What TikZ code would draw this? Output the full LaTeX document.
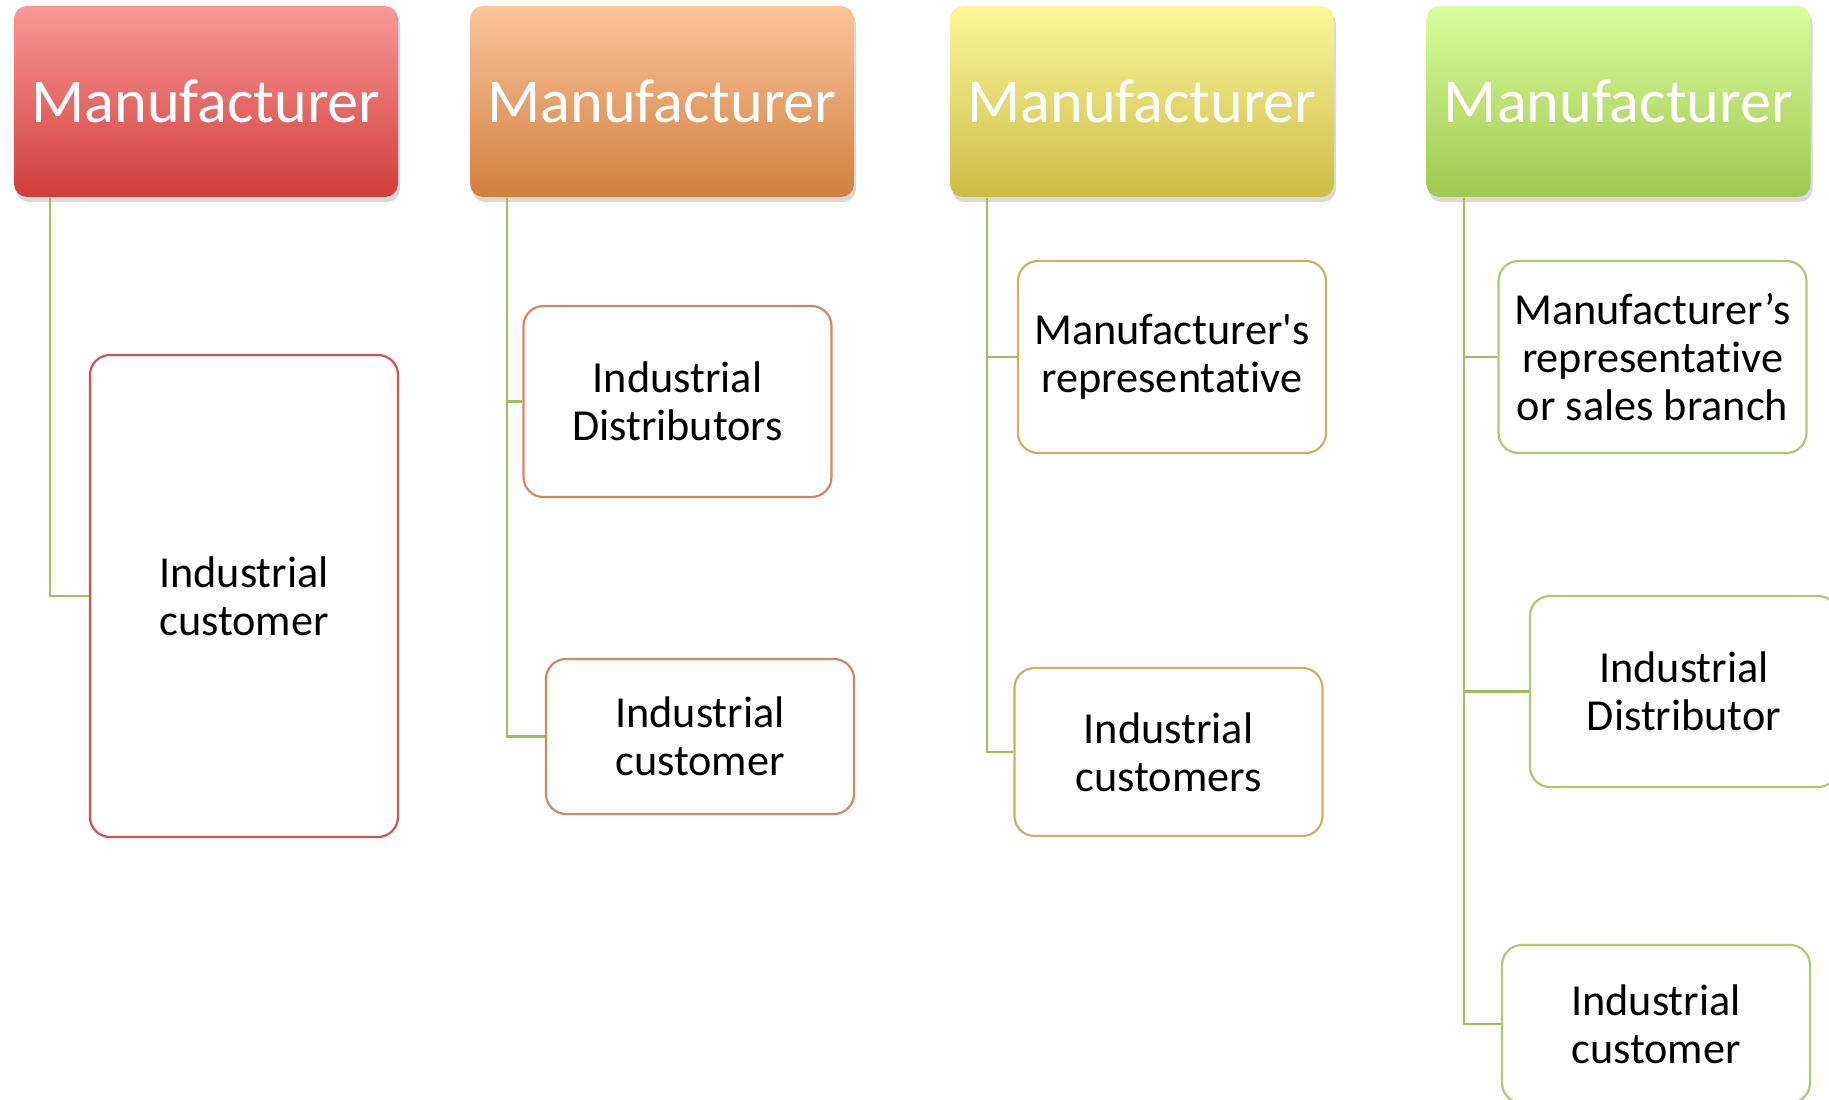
\documentclass[tikz,border=0pt]{standalone}
\usepackage{fontspec}
\setmainfont{Carlito}[RawFeature={-liga;-clig;-calt;-dlig}]
\usetikzlibrary{shadows}

\definecolor{redtop}{RGB}{250,152,150}
\definecolor{redbot}{RGB}{208,62,58}
\definecolor{orgtop}{RGB}{251,196,155}
\definecolor{orgbot}{RGB}{208,128,62}
\definecolor{yeltop}{RGB}{252,246,156}
\definecolor{yelbot}{RGB}{204,188,68}
\definecolor{grntop}{RGB}{218,252,158}
\definecolor{grnbot}{RGB}{158,200,78}
\definecolor{redline}{RGB}{204,84,82}
\definecolor{orgline}{RGB}{214,134,96}
\definecolor{yelline}{RGB}{204,178,96}
\definecolor{grnline}{RGB}{172,202,112}
\definecolor{linkcol}{RGB}{156,192,94}

\begin{document}
\begin{tikzpicture}[font=\fontsize{12.6}{13.6}\selectfont]

        % Setup the styles for the boxes and links
        \tikzset{maker style/.style={rectangle,
                                    rounded corners=0.13cm,
                                    minimum width=3.84cm,
                                    minimum height=1.91cm,
                                    inner sep=0pt,
                                    text=white,
                                    font=\fontsize{17.7}{20}\selectfont,
                                    drop shadow={opacity=0.3, shadow xshift=0.02cm, shadow yshift=-0.05cm}},
                 buyer style/.style={rectangle,
                                    rounded corners=0.2cm,
                                    minimum width=3.08cm,
                                    inner sep=0pt,
                                    line width=0.22mm,
                                    fill=white,
                                    align=center},
                 link/.style={draw=linkcol, line width=0.22mm}}

        \useasboundingbox (0, 0) rectangle (18.29, -11.00);

        % Draw the manufacturers
        \node[maker style, top color=redtop, bottom color=redbot]
                                at (2.06, -1.015)   (M1)    {Manufacturer};
        \node[maker style, top color=orgtop, bottom color=orgbot]
                                at (6.62, -1.015)   (M2)    {Manufacturer};
        \node[maker style, top color=yeltop, bottom color=yelbot]
                                at (11.42, -1.015)  (M3)    {Manufacturer};
        \node[maker style, top color=grntop, bottom color=grnbot]
                                at (16.185, -1.015) (M4)    {Manufacturer};

        % Draw the channel members
        \node[buyer style, draw=redline, minimum height=4.82cm]
                                at (2.44, -5.96)    (C1)    {Industrial\\customer};
        \node[buyer style, draw=orgline, minimum height=1.91cm]
                                at (6.775, -4.015)  (D2)    {Industrial\\Distributors};
        \node[buyer style, draw=orgline, minimum height=1.55cm]
                                at (7.00, -7.365)   (C2)    {Industrial\\customer};
        \node[buyer style, draw=yelline, minimum height=1.92cm]
                                at (11.72, -3.57)   (R3)    {Manufacturer\textquotesingle s\\representative};
        \node[buyer style, draw=yelline, minimum height=1.68cm]
                                at (11.685, -7.52)  (C3)    {Industrial\\customers};
        \node[buyer style, draw=grnline, minimum height=1.92cm]
                                at (16.525, -3.57)  (R4)    {Manufacturer’s\\representative\\or sales branch};
        \node[buyer style, draw=grnline, minimum height=1.91cm]
                                at (16.84, -6.915)  (D4)    {Industrial\\Distributor};
        \node[buyer style, draw=grnline, minimum height=1.58cm]
                                at (16.56, -10.24)  (C4)    {Industrial\\customer};

        % Connect the manufacturers to their members
        \draw[link] ([xshift=0.37cm]M1.south west) |- (C1.west);
        \draw[link] ([xshift=0.38cm]M2.south west) |- (D2.west);
        \draw[link] ([xshift=0.38cm]M2.south west) |- (C2.west);
        \draw[link] ([xshift=0.38cm]M3.south west) |- (R3.west);
        \draw[link] ([xshift=0.38cm]M3.south west) |- (C3.west);
        \draw[link] ([xshift=0.38cm]M4.south west) |- (R4.west);
        \draw[link] ([xshift=0.38cm]M4.south west) |- (D4.west);
        \draw[link] ([xshift=0.38cm]M4.south west) |- (C4.west);
    \end{tikzpicture}
\end{document}
